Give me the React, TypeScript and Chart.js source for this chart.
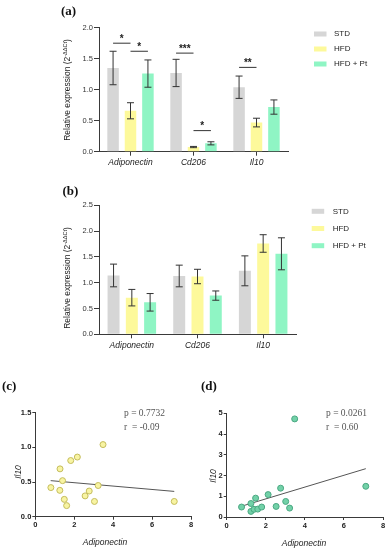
import React, { useEffect, useRef } from "react";
import { Chart, registerables } from "chart.js";
Chart.register(...registerables);

const SANS = "'Liberation Sans', Arial, Helvetica, sans-serif";
const SERIF = "'Liberation Serif', 'Times New Roman', serif";
const AXIS = "#3a3a3a";
const TEXT = "#222222";

// ---------- shared categories ----------
const genes = ["Adiponectin", "Cd206", "Il10"];
const groups = ["STD", "HFD", "HFD + Pt"];
const groupColors = ["#d6d6d6", "#fdf99b", "#8ff5c4"];
const barTicks = [0, 0.5, 1.0, 1.5, 2.0, 2.5];

// ---------- panel (a) ----------
const aSTD = [1.35, 1.27, 1.04];
const aHFD = [0.66, 0.075, 0.47];
const aPt = [1.26, 0.135, 0.72];
const aSTDerr = [0.27, 0.22, 0.18];
const aHFDerr = [0.13, 0.01, 0.07];
const aPtErr = [0.22, 0.025, 0.115];
const aMax = 2.0;
const sigGene = [0, 0, 1, 1, 2];
const sigFrom = [0, 1, 0, 1, 0];
const sigTo = [1, 2, 1, 2, 1];
const sigLevel = [1.75, 1.62, 1.59, 0.34, 1.36];
const sigLabel = ["*", "*", "***", "*", "**"];

// ---------- panel (b) ----------
const bSTD = [1.14, 1.13, 1.23];
const bHFD = [0.71, 1.12, 1.76];
const bPt = [0.62, 0.75, 1.56];
const bSTDerr = [0.22, 0.21, 0.29];
const bHFDerr = [0.16, 0.14, 0.17];
const bPtErr = [0.17, 0.09, 0.31];
const bMax = 2.5;

// ---------- panel (c) ----------
const cAdipo = [0.8, 1.27, 1.26, 1.4, 1.49, 1.61, 1.82, 2.16, 2.56, 2.77, 3.04, 3.23, 3.48, 7.14];
const cIl10 = [0.42, 0.69, 0.38, 0.52, 0.25, 0.16, 0.81, 0.86, 0.3, 0.37, 0.22, 0.45, 1.04, 0.22];
const cFitX = [0.79, 7.14];
const cFitY = [0.52, 0.365];
const cTicksY = [0, 0.5, 1.0, 1.5];
const cStats = ["p = 0.7732", "r  = -0.09"];

// ---------- panel (d) ----------
const dAdipo = [0.76, 1.24, 1.24, 1.4, 1.48, 1.59, 1.79, 2.12, 2.53, 2.76, 3.02, 3.22, 3.48, 7.12];
const dIl10 = [0.48, 0.65, 0.27, 0.37, 0.91, 0.38, 0.48, 1.08, 0.51, 1.39, 0.75, 0.43, 4.73, 1.48];
const dFitX = [0.76, 7.12];
const dFitY = [0.52, 2.33];
const dTicksY = [0, 1, 2, 3, 4, 5];
const dStats = ["p = 0.0261", "r  = 0.60"];
const scatterTicksX = [0, 2, 4, 6, 8];

function drawYTitle(ctx: CanvasRenderingContext2D, cx: number, cy: number) {
  ctx.save();
  ctx.translate(cx, cy);
  ctx.rotate(-Math.PI / 2);
  const main = "Relative expression (2";
  const sup = "-ΔΔCt";
  const end = ")";
  const f1 = `8.5px ${SANS}`;
  const f2 = `5.5px ${SANS}`;
  ctx.font = f1;
  const w1 = ctx.measureText(main).width;
  const w3 = ctx.measureText(end).width;
  ctx.font = f2;
  const w2 = ctx.measureText(sup).width;
  let x = -(w1 + w2 + w3) / 2;
  ctx.fillStyle = TEXT;
  ctx.textBaseline = "middle";
  ctx.textAlign = "left";
  ctx.font = f1;
  ctx.fillText(main, x, 0);
  x += w1;
  ctx.font = f2;
  ctx.fillText(sup, x, -3);
  x += w2;
  ctx.font = f1;
  ctx.fillText(end, x, 0);
  ctx.restore();
}

type BarSpec = {
  values: number[][];
  errors: number[][];
  yMax: number;
  sig: boolean;
  panel: string;
  panelX: number;
  panelY: number;
  titleX: number;
  titleY: number;
  legX: number;
  legTextX: number;
  legY: number;
  legDy: number;
  padTop: number;
  padRight: number;
  yWidth: number;
  xHeight: number;
  cp: number;
  bp: number;
};

function barConfig(s: BarSpec): any {
  const decor = {
    id: "decor",
    afterDatasetsDraw(chart: any) {
      const ctx: CanvasRenderingContext2D = chart.ctx;
      const y = chart.scales.y;
      ctx.save();
      ctx.strokeStyle = "#333";
      ctx.lineWidth = 1;
      chart.data.datasets.forEach((ds: any, di: number) => {
        const meta = chart.getDatasetMeta(di);
        meta.data.forEach((el: any, i: number) => {
          const v = ds.data[i];
          const e = s.errors[di][i];
          const x = el.x;
          const yt = y.getPixelForValue(v + e);
          const yb = y.getPixelForValue(Math.max(0, v - e));
          ctx.beginPath();
          ctx.moveTo(x, yt);
          ctx.lineTo(x, yb);
          ctx.moveTo(x - 3.5, yt);
          ctx.lineTo(x + 3.5, yt);
          ctx.moveTo(x - 3.5, yb);
          ctx.lineTo(x + 3.5, yb);
          ctx.stroke();
        });
      });
      if (s.sig) {
        for (let k = 0; k < sigGene.length; k++) {
          const x1 = chart.getDatasetMeta(sigFrom[k]).data[sigGene[k]].x;
          const x2 = chart.getDatasetMeta(sigTo[k]).data[sigGene[k]].x;
          const yy = y.getPixelForValue(sigLevel[k]);
          ctx.beginPath();
          ctx.moveTo(x1, yy);
          ctx.lineTo(x2, yy);
          ctx.strokeStyle = "#333";
          ctx.stroke();
          ctx.fillStyle = "#222";
          ctx.font = `bold 10px ${SANS}`;
          ctx.textAlign = "center";
          ctx.textBaseline = "alphabetic";
          ctx.fillText(sigLabel[k], (x1 + x2) / 2, yy - 1.5);
        }
      }
      ctx.restore();
    },
    afterDraw(chart: any) {
      const ctx: CanvasRenderingContext2D = chart.ctx;
      ctx.save();
      ctx.font = `bold 13px ${SERIF}`;
      ctx.fillStyle = "#111";
      ctx.textAlign = "left";
      ctx.textBaseline = "middle";
      ctx.fillText(s.panel, s.panelX, s.panelY);
      drawYTitle(ctx, s.titleX, s.titleY);
      groups.forEach((g, i) => {
        const yy = s.legY + i * s.legDy;
        ctx.fillStyle = groupColors[i];
        ctx.fillRect(s.legX, yy - 2.5, 12.5, 5);
        ctx.fillStyle = TEXT;
        ctx.font = `8px ${SANS}`;
        ctx.textAlign = "left";
        ctx.textBaseline = "middle";
        ctx.fillText(g, s.legTextX, yy);
      });
      ctx.restore();
    },
  };
  return {
    type: "bar",
    data: {
      labels: genes,
      datasets: groups.map((g, i) => ({
        label: g,
        data: s.values[i],
        backgroundColor: groupColors[i],
        borderWidth: 0,
        categoryPercentage: s.cp,
        barPercentage: s.bp,
      })),
    },
    options: {
      responsive: false,
      animation: false,
      events: [],
      devicePixelRatio: 1,
      layout: { padding: { left: 0, top: s.padTop, right: s.padRight, bottom: 0 } },
      plugins: { legend: { display: false }, tooltip: { enabled: false }, title: { display: false } },
      scales: {
        x: {
          type: "category",
          offset: true,
          grid: { display: true, drawOnChartArea: false, drawTicks: true, tickLength: 4, offset: false, color: AXIS },
          border: { display: true, color: AXIS, width: 1 },
          ticks: { font: { family: SANS, size: 8.5, style: "italic" }, color: TEXT, padding: 2, maxRotation: 0, autoSkip: false },
          afterFit: (sc: any) => {
            sc.height = s.xHeight;
          },
        },
        y: {
          min: 0,
          max: s.yMax,
          afterBuildTicks: (sc: any) => {
            sc.ticks = barTicks.filter((v) => v <= s.yMax).map((v) => ({ value: v }));
          },
          ticks: {
            callback: (v: any) => Number(v).toFixed(1),
            font: { family: SANS, size: 7.5 },
            color: "#333",
            padding: 1,
          },
          grid: { display: true, drawOnChartArea: false, drawTicks: true, tickLength: 5, color: AXIS },
          border: { display: true, color: AXIS, width: 1 },
          afterFit: (sc: any) => {
            sc.width = s.yWidth;
          },
        },
      },
    },
    plugins: [decor],
  };
}

type ScSpec = {
  xs: number[];
  ys: number[];
  fitX: number[];
  fitY: number[];
  yMax: number;
  yTicks: number[];
  decimals: number;
  fill: string;
  stroke: string;
  stats: string[];
  statsX: number;
  statsY: number;
  panel: string;
  panelX: number;
  panelY: number;
  ytX: number;
  ytY: number;
  xtX: number;
  xtY: number;
  padTop: number;
  padRight: number;
  yWidth: number;
  xHeight: number;
};

function scatterConfig(s: ScSpec): any {
  const decor = {
    id: "decor2",
    afterDraw(chart: any) {
      const ctx: CanvasRenderingContext2D = chart.ctx;
      ctx.save();
      ctx.font = `bold 13px ${SERIF}`;
      ctx.fillStyle = "#111";
      ctx.textAlign = "left";
      ctx.textBaseline = "middle";
      ctx.fillText(s.panel, s.panelX, s.panelY);
      ctx.font = `9.5px ${SERIF}`;
      ctx.fillStyle = "#555";
      s.stats.forEach((t, i) => ctx.fillText(t, s.statsX, s.statsY + i * 14.5));
      ctx.fillStyle = TEXT;
      ctx.font = `italic 8.5px ${SANS}`;
      ctx.textAlign = "center";
      ctx.fillText("Adiponectin", s.xtX, s.xtY);
      ctx.translate(s.ytX, s.ytY);
      ctx.rotate(-Math.PI / 2);
      ctx.fillText("Il10", 0, 0);
      ctx.restore();
    },
  };
  return {
    type: "scatter",
    data: {
      datasets: [
        {
          label: "points",
          data: s.xs.map((x, i) => ({ x, y: s.ys[i] })),
          backgroundColor: s.fill,
          borderColor: s.stroke,
          borderWidth: 1,
          pointRadius: 3,
        },
        {
          label: "fit",
          data: s.fitX.map((x, i) => ({ x, y: s.fitY[i] })),
          showLine: true,
          borderColor: "#555",
          borderWidth: 1,
          pointRadius: 0,
          fill: false,
        },
      ],
    },
    options: {
      responsive: false,
      animation: false,
      events: [],
      devicePixelRatio: 1,
      layout: { padding: { left: 0, top: s.padTop, right: s.padRight, bottom: 0 } },
      plugins: { legend: { display: false }, tooltip: { enabled: false } },
      scales: {
        x: {
          type: "linear",
          min: 0,
          max: 8,
          afterBuildTicks: (sc: any) => {
            sc.ticks = scatterTicksX.map((v) => ({ value: v }));
          },
          ticks: { font: { family: SANS, size: 7.5, weight: "bold" }, color: "#222", padding: 1, maxRotation: 0 },
          grid: { display: true, drawOnChartArea: false, drawTicks: true, tickLength: 3, color: AXIS },
          border: { display: true, color: AXIS, width: 1 },
          afterFit: (sc: any) => {
            sc.height = s.xHeight;
          },
        },
        y: {
          min: 0,
          max: s.yMax,
          afterBuildTicks: (sc: any) => {
            sc.ticks = s.yTicks.map((v) => ({ value: v }));
          },
          ticks: {
            callback: (v: any) => Number(v).toFixed(s.decimals),
            font: { family: SANS, size: 7.5, weight: "bold" },
            color: "#222",
            padding: 1,
          },
          grid: { display: true, drawOnChartArea: false, drawTicks: true, tickLength: 3, color: AXIS },
          border: { display: true, color: AXIS, width: 1 },
          afterFit: (sc: any) => {
            sc.width = s.yWidth;
          },
        },
      },
    },
    plugins: [decor],
  };
}

function ChartBox(props: { left: number; top: number; width: number; height: number; make: () => any }) {
  const ref = useRef<HTMLCanvasElement>(null);
  useEffect(() => {
    const chart = new Chart(ref.current as HTMLCanvasElement, props.make());
    return () => chart.destroy();
  }, []);
  return (
    <div style={{ position: "absolute", left: props.left, top: props.top, width: props.width, height: props.height }}>
      <canvas ref={ref} width={props.width} height={props.height} style={{ width: props.width, height: props.height, display: "block" }} />
    </div>
  );
}

export default function App() {
  return (
    <div style={{ position: "absolute", left: 0, top: 0, width: 392, height: 550, background: "#ffffff", overflow: "hidden" }}>
      <ChartBox
        left={0}
        top={0}
        width={392}
        height={178}
        make={() =>
          barConfig({
            values: [aSTD, aHFD, aPt],
            errors: [aSTDerr, aHFDerr, aPtErr],
            yMax: aMax,
            sig: true,
            panel: "(a)",
            panelX: 61,
            panelY: 12,
            titleX: 68,
            titleY: 90,
            legX: 314,
            legTextX: 334,
            legY: 34,
            legDy: 15,
            padTop: 27.7,
            padRight: 104,
            yWidth: 99,
            xHeight: 178 - 151.7,
            cp: 0.83,
            bp: 0.66,
          })
        }
      />
      <ChartBox
        left={0}
        top={178}
        width={392}
        height={198}
        make={() =>
          barConfig({
            values: [bSTD, bHFD, bPt],
            errors: [bSTDerr, bHFDerr, bPtErr],
            yMax: bMax,
            sig: false,
            panel: "(b)",
            panelX: 62.5,
            panelY: 14,
            titleX: 68,
            titleY: 100,
            legX: 311.7,
            legTextX: 332.7,
            legY: 33.3,
            legDy: 17.2,
            padTop: 27.3,
            padRight: 96,
            yWidth: 99,
            xHeight: 198 - 156.3,
            cp: 0.835,
            bp: 0.655,
          })
        }
      />
      <ChartBox
        left={0}
        top={380}
        width={196}
        height={170}
        make={() =>
          scatterConfig({
            xs: cAdipo,
            ys: cIl10,
            fitX: cFitX,
            fitY: cFitY,
            yMax: 1.5,
            yTicks: cTicksY,
            decimals: 1,
            fill: "#f8f4a2",
            stroke: "#c4bc5c",
            stats: cStats,
            statsX: 124,
            statsY: 33,
            panel: "(c)",
            panelX: 2,
            panelY: 7,
            ytX: 19,
            ytY: 92,
            xtX: 105,
            xtY: 163,
            padTop: 32.7,
            padRight: 5,
            yWidth: 35.3,
            xHeight: 170 - 136.7,
          })
        }
      />
      <ChartBox
        left={196}
        top={380}
        width={196}
        height={170}
        make={() =>
          scatterConfig({
            xs: dAdipo,
            ys: dIl10,
            fitX: dFitX,
            fitY: dFitY,
            yMax: 5,
            yTicks: dTicksY,
            decimals: 0,
            fill: "#72d1a8",
            stroke: "#4aa882",
            stats: dStats,
            statsX: 130,
            statsY: 33,
            panel: "(d)",
            panelX: 5,
            panelY: 7,
            ytX: 17.5,
            ytY: 96,
            xtX: 108,
            xtY: 163.3,
            padTop: 33.3,
            padRight: 9,
            yWidth: 30.7,
            xHeight: 170 - 137,
          })
        }
      />
    </div>
  );
}
